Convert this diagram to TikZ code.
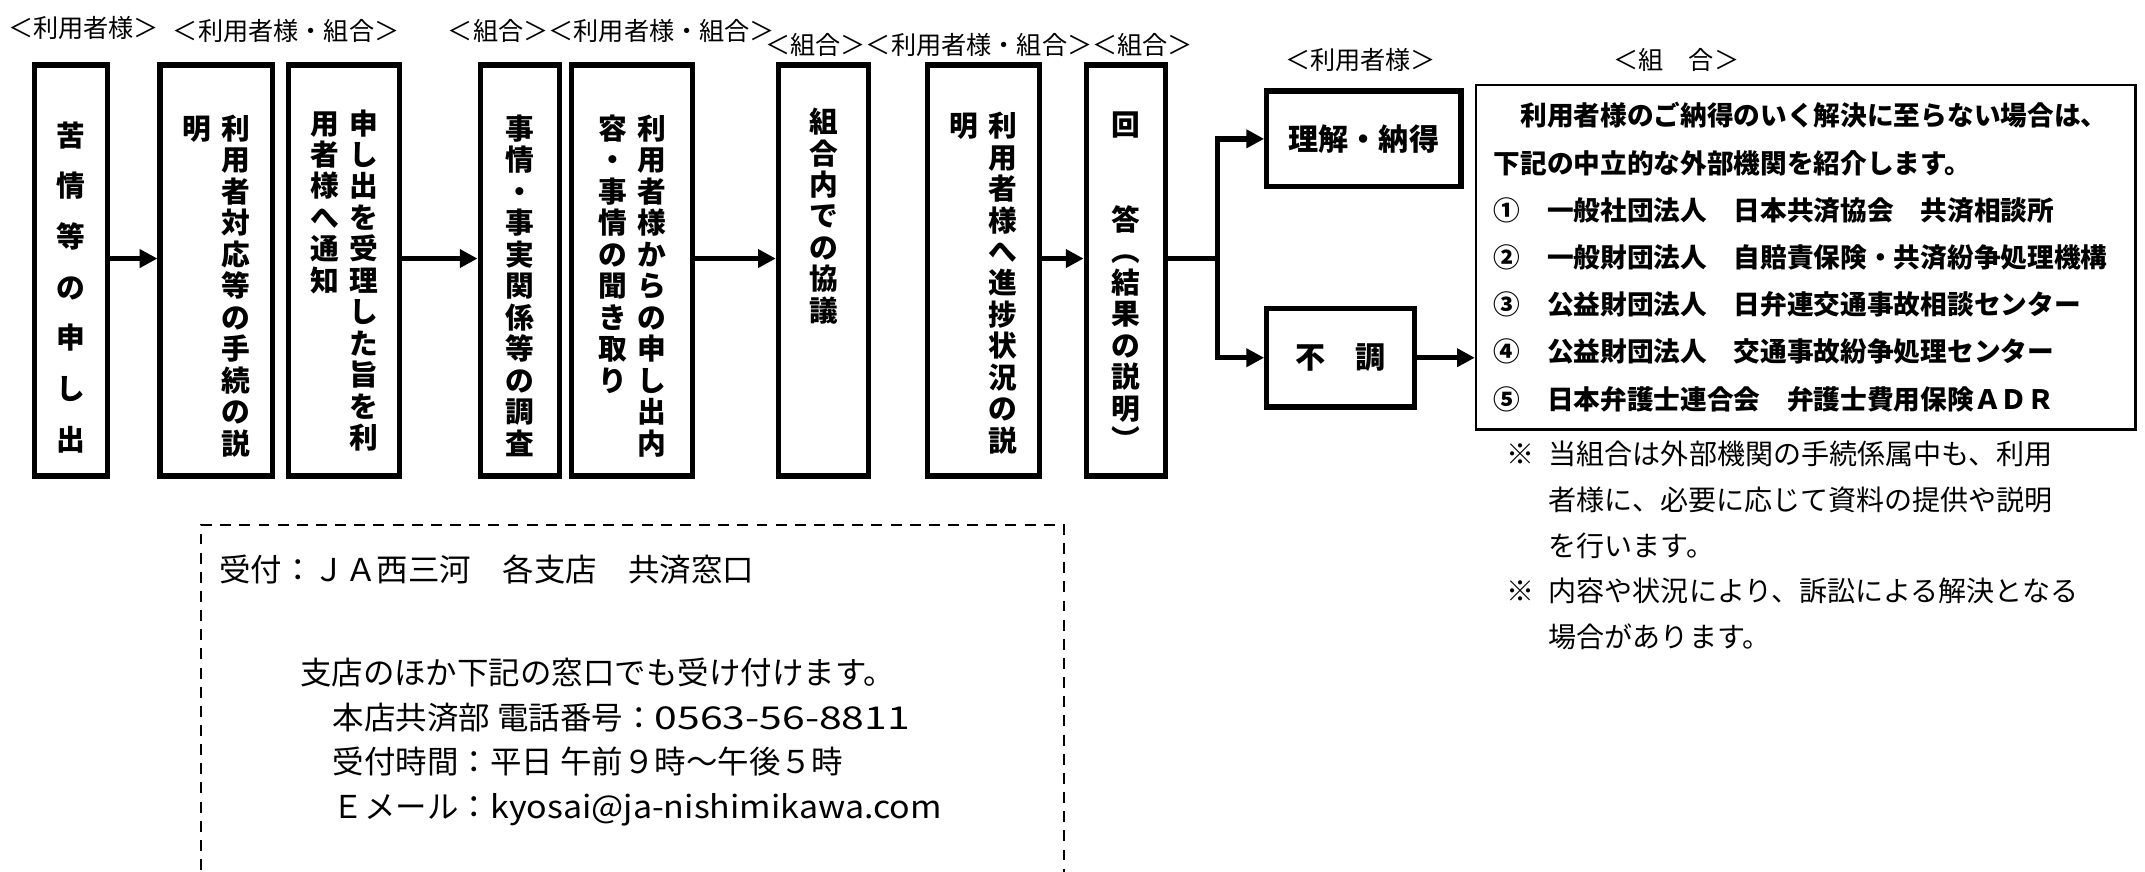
\documentclass[tikz,border=0pt]{standalone}
\usepackage{fontspec}
\newfontfamily\jp{Noto Sans CJK JP}
\usetikzlibrary{positioning,arrows.meta}

% vertical (tategaki) columns
\def\tatepitch{11.5pt}
\def\tategap{3.75pt}
\def\bk{}
\def\tateloop#1{\ifx\relax#1\else\hbox to 1em{\hss#1\hss}\expandafter\tateloop\fi}
\newcommand\tatecol[1]{\vtop{\baselineskip=\tatepitch\lineskiplimit=-20pt\tateloop#1\relax}}
\newcommand\tatetwo[2]{\tatecol{#1}\kern\tategap\tatecol{#2}}
% wide latin runs in the reception box
\newcommand\widelat[2]{{\addfontfeature{FakeStretch=#1}#2}}

\begin{document}
\begin{tikzpicture}[x=0.5pt,y=-0.5pt]
    % Styles
    \tikzset{
        flowbox/.style={draw, line width=1.9pt, inner sep=0pt, minimum height=150.25pt},
        tatetext/.style={inner sep=0pt, font=\jp\bfseries\fontsize{10.5pt}{11.5pt}\selectfont},
        resbox/.style={draw, line width=1.9pt, inner sep=0pt, font=\jp\bfseries\fontsize{11pt}{13pt}\selectfont},
        tag/.style={inner sep=0pt, anchor=west, font=\jp\fontsize{9.2pt}{11pt}\selectfont},
        infobox/.style={draw, line width=0.9pt, inner xsep=6.5pt, inner ysep=0pt, align=left,
            text width=228pt, minimum height=126pt, font=\jp\bfseries\fontsize{9.75pt}{17.25pt}\selectfont},
        note/.style={inner sep=0pt, anchor=north west, align=left, font=\jp\fontsize{10.25pt}{16.7pt}\selectfont},
        rcpt/.style={inner sep=0pt, align=left, font=\jp\fontsize{11.5pt}{16.35pt}\selectfont},
        arr/.style={line width=2pt, -{Triangle[length=6.5pt,width=6.5pt]}},
        flowline/.style={line width=2pt},
        dashframe/.style={line width=0.7pt, dash pattern=on 4pt off 3pt}
    }

    \useasboundingbox (0,0) rectangle (1568,637);

    % Who is in charge
    \node[tag] (lab1) at (5.5,20.7) {＜利用者様＞};
    \node[tag] (lab2) at (126,23) {＜利用者様・組合＞};
    \node[tag] (lab3) at (327,23) {＜組合＞＜利用者様・組合＞};
    \node[tag] (lab4) at (559,33) {＜組合＞＜利用者様・組合＞＜組合＞};
    \node[tag] (lab5) at (939,44) {＜利用者様＞};
    \node[tag] (lab6) at (1179,44) {＜組　合＞};

    % Steps
    \node[flowbox, minimum width=26.5pt] (b1) at (52,197.75) {};
    \node[flowbox, minimum width=41pt] (b2) at (158,197.75) {};
    \node[flowbox, minimum width=40.5pt] (b3) at (251.5,197.75) {};
    \node[flowbox, minimum width=29pt] (b4) at (380,197.75) {};
    \node[flowbox, minimum width=44pt] (b5) at (462,197.75) {};
    \node[flowbox, minimum width=33pt] (b6) at (602,197.75) {};
    \node[flowbox, minimum width=41pt] (b7) at (719,197.75) {};
    \node[flowbox, minimum width=29pt] (b8) at (823,197.75) {};

    % Step texts
    \node[tatetext, below=21.5pt of b1.north] (t1) {\def\tatepitch{18.5pt}\tatecol{苦情等の申し出}};
    \node[tatetext, below=19pt of b2.north] (t2) {\tatetwo{明}{利用者対応等の手続の説}};
    \node[tatetext, below=17pt of b3.north] (t3) {\tatetwo{用者様へ通知}{申し出を受理した旨を利}};
    \node[tatetext, below=19pt of b4.north] (t4) {\tatecol{事情・事実関係等の調査}};
    \node[tatetext, below=19pt of b5.north] (t5) {\tatetwo{容・事情の聞き取り}{利用者様からの申し出内}};
    \node[tatetext, below=16.5pt of b6.north] (t6) {\tatecol{組合内での協議}};
    \node[tatetext, below=18pt of b7.north] (t7) {\tatetwo{明}{利用者様へ進捗状況の説}};
    \node[tatetext, below=18pt of b8.north] (t8) {\tatecol{回\bk\bk 答︵結果の説明︶}};

    % Results
    \node[resbox, minimum width=71pt, minimum height=35pt] (ok) at (997,101.5) {理解・納得};
    \node[resbox, minimum width=54pt, minimum height=36pt] (ng) at (980,261.5) {不　調};

    % Outside bodies
    \node[infobox] (info) at (1320,188) {%
        　利用者様のご納得のいく解決に至らない場合は、\\%
        下記の中立的な外部機関を紹介します。\\%
        ①　一般社団法人　日本共済協会　共済相談所\\%
        ②　一般財団法人　自賠責保険・共済紛争処理機構\\%
        ③　公益財団法人　日弁連交通事故相談センター\\%
        ④　公益財団法人　交通事故紛争処理センター\\%
        ⑤　日本弁護士連合会　弁護士費用保険ＡＤＲ};

    \node[note] (notes) at (1101,322) {%
        ※\hspace{0.5em}当組合は外部機関の手続係属中も、利用\\%
        \hspace*{1.5em}者様に、必要に応じて資料の提供や説明\\%
        \hspace*{1.5em}を行います。\\%
        ※\hspace{0.5em}内容や状況により、訴訟による解決となる\\%
        \hspace*{1.5em}場合があります。};

    % Arrows
    \coordinate (ay) at (0,189);
    \coordinate (split) at (890,189);
    \foreach \a/\b in {b1/b2,b3/b4,b5/b6,b7/b8}
        \draw[arr] (\a.east |- ay) -- (\b.west |- ay);
    \draw[flowline] (b8.east |- ay) -- (split);
    \draw[arr] (split) |- (ok);
    \draw[arr] (split) |- (ng);
    \draw[arr] (ng) -- (ng -| info.west);

    % Reception (dashed, open at the bottom)
    \draw[dashframe] (147,650) -- (147,384) -- (778,384) -- (778,650);
    \node[rcpt, anchor=west] (rc1) at (160,416.7) {受付：ＪＡ西三河　各支店　共済窓口};
    \node[rcpt, anchor=north west] (rc2) at (219,480.5) {%
        支店のほか下記の窓口でも受け付けます。\\%
        \hspace*{12pt}本店共済部 電話番号：\widelat{1.3}{0563-56-8811}\\%
        \hspace*{12pt}受付時間：平日 午前９時～午後５時\\%
        \hspace*{12pt}Ｅメール：\widelat{1.08}{kyosai@ja-nishimikawa.com}};

\end{tikzpicture}
\end{document}
